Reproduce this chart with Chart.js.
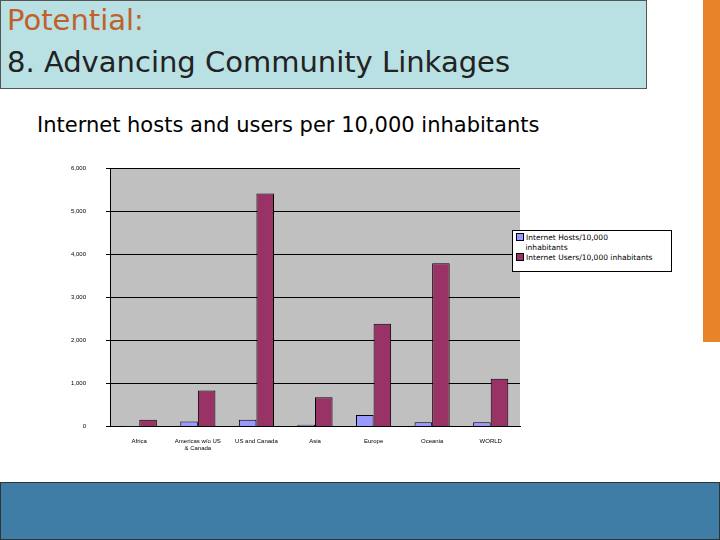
<!DOCTYPE html>
<html><head><meta charset="utf-8">
<script src="https://cdn.jsdelivr.net/npm/chart.js@4"></script>
<style>
body{margin:0;width:720px;height:540px;position:relative;background:#fff;font-family:"DejaVu Sans",sans-serif;overflow:hidden}
#titre{position:absolute;left:0;top:0;width:647px;height:89px;background:#b9e0e3;border:1px solid #555;box-sizing:border-box}
#titre div{position:absolute;left:6px;font-size:29px;line-height:34px}
#orange{position:absolute;left:703px;top:0;width:17px;height:342px;background:#e8832a}
#bas{position:absolute;left:0;top:482px;width:720px;height:58px;background:#3f7ca6;border:1px solid #333;box-sizing:border-box}
#sous{position:absolute;left:37px;top:113px;font-size:21px}
#wrap{position:absolute;left:60px;top:145px;width:470px;height:310px}
#legende{position:absolute;left:512px;top:230px;width:160px;height:42px;border:1px solid #000;background:#fff;font-size:7.5px;box-sizing:border-box;padding:2px 3px;line-height:10px}
.p{display:inline-block;width:6px;height:6px;border:1px solid #000;margin-right:2px;vertical-align:-1px}
</style></head><body>
<div id="titre"><div style="top:2px;color:#c0602a">Potential:</div><div style="top:44px;color:#222">8. Advancing Community Linkages</div></div>
<div id="orange"></div>
<div id="sous">Internet hosts and users per 10,000 inhabitants</div>
<div id="wrap"><canvas id="c"></canvas></div>
<div id="legende"><span class="p" style="background:#9999ff"></span>Internet Hosts/10,000<br>&nbsp;&nbsp;&nbsp;&nbsp;inhabitants<br><span class="p" style="background:#993366"></span>Internet Users/10,000 inhabitants</div>
<div id="bas"></div>
<script>
// données
const regions = ['Africa', ['Americas w/o US', '& Canada'], 'US and Canada', 'Asia', 'Europe', 'Oceania', 'WORLD'];
const hotes = [3, 120, 160, 45, 270, 100, 100];
const utilisateurs = [160, 840, 5420, 680, 2390, 3800, 1110];
const graduations = [0, 1000, 2000, 3000, 4000, 5000, 6000];

// fond gris de la zone de tracé
const fondGris = {
  id: 'fondGris',
  beforeDraw(chart) {
    const a = chart.chartArea, ctx = chart.ctx;
    ctx.save();
    ctx.fillStyle = '#c0c0c0';
    ctx.fillRect(a.left, a.top, a.right - a.left, a.bottom - a.top);
    ctx.restore();
  }
};

new Chart(document.getElementById('c'), {
  type: 'bar',
  data: {
    labels: regions,
    datasets: [
      { label: 'Internet Hosts/10,000 inhabitants', data: hotes, backgroundColor: '#9999ff', borderColor: '#000', borderWidth: 1 },
      { label: 'Internet Users/10,000 inhabitants', data: utilisateurs, backgroundColor: '#993366', borderColor: '#000', borderWidth: 1 }
    ]
  },
  plugins: [fondGris],
  options: {
    responsive: true,
    maintainAspectRatio: false,
    animation: false,
    plugins: { legend: { display: false }, tooltip: { enabled: false } },
    layout: { padding: { top: 8, right: 10 } },
    datasets: { bar: { categoryPercentage: 0.6, barPercentage: 1 } },
    scales: {
      x: {
        grid: { display: false, drawTicks: true },
        border: { color: '#000' },
        ticks: { color: '#000', font: { size: 6 }, maxRotation: 0, autoSkip: false }
      },
      y: {
        min: 0, max: 6000,
        afterBuildTicks: s => { s.ticks = graduations.map(v => ({ value: v })); },
        grid: { color: '#000', tickLength: 4 },
        border: { color: '#000' },
        ticks: { color: '#000', font: { size: 6 }, padding: 20 },
        afterFit: s => { s.width = 50; }
      }
    }
  }
});
</script>
</body></html>
